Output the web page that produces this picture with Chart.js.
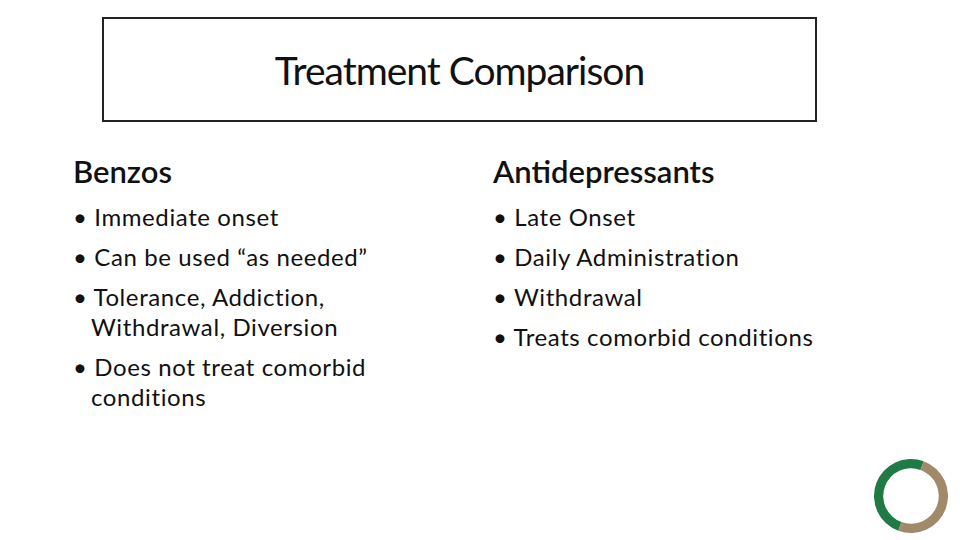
<!DOCTYPE html>
<html><head><meta charset="utf-8">
<script src="https://cdn.jsdelivr.net/npm/chart.js@4"></script>
<style>
body{margin:0;width:960px;height:540px;background:#fff;font-family:Lato,"Open Sans",sans-serif;color:#111;position:relative;overflow:hidden}
#title{position:absolute;left:102px;top:17px;width:715px;height:105px;border:2px solid #222;box-sizing:border-box;display:flex;align-items:center;justify-content:center;font-size:39px;letter-spacing:-1px}
.col{position:absolute;top:152px}
.col h2{margin:0 0 12px 0;font-size:31px;font-weight:600}
.col ul{margin:0;padding:0;list-style:none;font-size:24px;line-height:30px;letter-spacing:0.6px}
.col li{padding-left:18px;text-indent:-18px;margin-bottom:10px}
#logo{position:absolute;left:874px;top:459px;width:74px;height:74px}
</style></head><body>
<div id="title">Treatment Comparison</div>
<div class="col" style="left:73px"><h2>Benzos</h2><ul id="l1"></ul></div>
<div class="col" style="left:493px"><h2>Antidepressants</h2><ul id="l2"></ul></div>
<div id="logo"><canvas id="c"></canvas></div>
<script>
const benzos = ['Immediate onset','Can be used \u201cas needed\u201d','Tolerance, Addiction, Withdrawal, Diversion','Does not treat comorbid conditions'];
const antidep = ['Late Onset','Daily Administration','Withdrawal','Treats comorbid conditions'];
const logoParts = [50, 50];
const logoColors = ['#1f7a45', '#a08a6a'];

function fill(id, items, widths) {
    const ul = document.getElementById(id);
    items.forEach(t => {
        const li = document.createElement('li');
        li.textContent = '\u2022 ' + t;
        li.style.width = widths + 'px';
        ul.appendChild(li);
    });
}
fill('l1', benzos, 320);
fill('l2', antidep, 420);

new Chart(document.getElementById('c'), {
    type: 'doughnut',
    data: { labels: ['a','b'], datasets: [{ data: logoParts, backgroundColor: logoColors, borderWidth: 0 }] },
    options: { responsive: true, maintainAspectRatio: true, cutout: '75%', rotation: 200, animation: false,
        plugins: { legend: { display: false }, tooltip: { enabled: false } } }
});
</script>
</body></html>
